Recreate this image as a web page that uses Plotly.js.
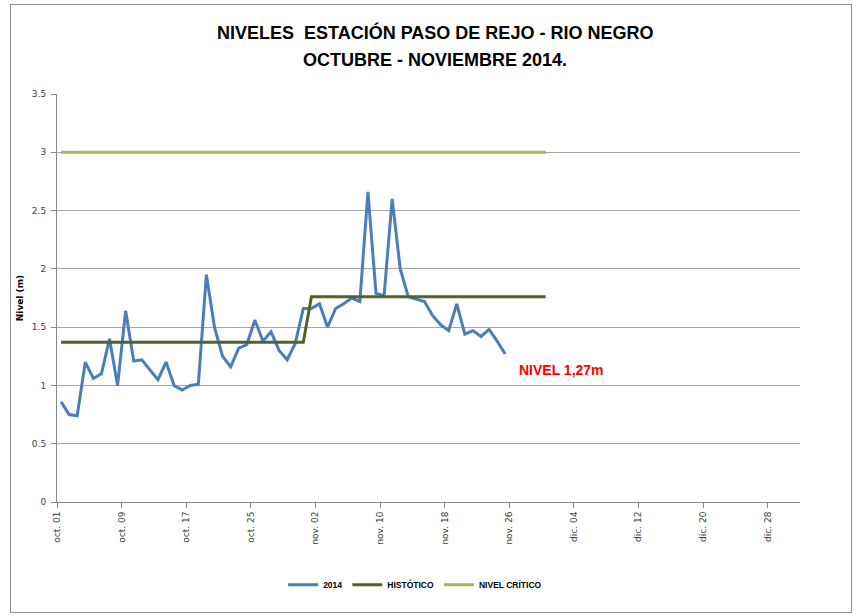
<!DOCTYPE html>
<html><head><meta charset="utf-8">
<script src="https://cdn.plot.ly/plotly-3.0.1.min.js"></script>
<style>
body{margin:0;background:#fff}
#wrap{position:relative;width:859px;height:616px}
#frame{position:absolute;left:10px;top:4px;width:840px;height:607px;border:1px solid #8c8c8c;pointer-events:none}
</style>
</head><body>
<div id="wrap"><div id="chart" style="width:859px;height:616px"></div><div id="frame"></div></div>
<script>
const dates = [
 '2014-10-01','2014-10-02','2014-10-03','2014-10-04','2014-10-05','2014-10-06','2014-10-07','2014-10-08','2014-10-09','2014-10-10',
 '2014-10-11','2014-10-12','2014-10-13','2014-10-14','2014-10-15','2014-10-16','2014-10-17','2014-10-18','2014-10-19','2014-10-20',
 '2014-10-21','2014-10-22','2014-10-23','2014-10-24','2014-10-25','2014-10-26','2014-10-27','2014-10-28','2014-10-29','2014-10-30',
 '2014-10-31','2014-11-01','2014-11-02','2014-11-03','2014-11-04','2014-11-05','2014-11-06','2014-11-07','2014-11-08','2014-11-09',
 '2014-11-10','2014-11-11','2014-11-12','2014-11-13','2014-11-14','2014-11-15','2014-11-16','2014-11-17','2014-11-18','2014-11-19',
 '2014-11-20','2014-11-21','2014-11-22','2014-11-23','2014-11-24','2014-11-25','2014-11-26','2014-11-27','2014-11-28','2014-11-29',
 '2014-11-30'
];
const nivel2014 = [
 0.86,0.75,0.74,1.20,1.06,1.10,1.40,1.00,1.64,1.21,
 1.22,1.13,1.05,1.20,1.00,0.96,1.00,1.01,1.95,1.50,
 1.25,1.16,1.32,1.35,1.56,1.38,1.46,1.30,1.22,1.36,
 1.66,1.66,1.70,1.50,1.66,1.70,1.75,1.72,2.66,1.79,
 1.77,2.60,2.00,1.76,1.74,1.72,1.60,1.52,1.47,1.70,
 1.44,1.47,1.42,1.48,1.38,1.27
];
const historico = [
 1.37,1.37,1.37,1.37,1.37,1.37,1.37,1.37,1.37,1.37,
 1.37,1.37,1.37,1.37,1.37,1.37,1.37,1.37,1.37,1.37,
 1.37,1.37,1.37,1.37,1.37,1.37,1.37,1.37,1.37,1.37,
 1.37,1.76,1.76,1.76,1.76,1.76,1.76,1.76,1.76,1.76,
 1.76,1.76,1.76,1.76,1.76,1.76,1.76,1.76,1.76,1.76,
 1.76,1.76,1.76,1.76,1.76,1.76,1.76,1.76,1.76,1.76,
 1.76
];
const critico = [
 3,3,3,3,3,3,3,3,3,3,3,3,3,3,3,3,3,3,3,3,
 3,3,3,3,3,3,3,3,3,3,3,3,3,3,3,3,3,3,3,3,
 3,3,3,3,3,3,3,3,3,3,3,3,3,3,3,3,3,3,3,3,3
];
const tickDates = ['2014-10-01','2014-10-09','2014-10-17','2014-10-25','2014-11-02','2014-11-10','2014-11-18','2014-11-26','2014-12-04','2014-12-12','2014-12-20','2014-12-28'];
const tickLabels = ['oct. 01','oct. 09','oct. 17','oct. 25','nov. 02','nov. 10','nov. 18','nov. 26','dic. 04','dic. 12','dic. 20','dic. 28'];
const seriesNames = ['2014','HISTÓTICO','NIVEL CRÍTICO'];

const xs = dates.map(d => d + ' 12:00');

const traces = [
 {x: xs.slice(0, nivel2014.length), y: nivel2014, name: seriesNames[0], type:'scatter', mode:'lines', line:{color:'#4a7ebb', width:3}},
 {x: xs, y: historico, name: seriesNames[1], type:'scatter', mode:'lines', line:{color:'#4f6228', width:3}},
 {x: xs, y: critico, name: seriesNames[2], type:'scatter', mode:'lines', line:{color:'#9bbb59', width:3}}
];

const tickFont = {family:'DejaVu Sans', size:9, color:'#404040'};
const titleFont = {family:'Liberation Sans, Arial, sans-serif', size:18, weight:'bold', color:'#000'};
const layout = {
 width:859, height:616,
 margin:{l:57, r:59, t:94, b:114, pad:0},
 paper_bgcolor:'#fff', plot_bgcolor:'#fff',
 xaxis:{type:'date', range:['2014-10-01','2015-01-01'], tickmode:'array', tickvals:tickDates, ticktext:tickLabels, tickangle:-90,
   ticks:'outside', ticklen:5, tickcolor:'#878787', showline:true, linecolor:'#878787', linewidth:1, showgrid:false, zeroline:false, tickfont:tickFont},
 yaxis:{range:[0,3.5], tick0:0, dtick:0.5, ticks:'outside', ticklen:5, tickcolor:'#878787', showline:true, linecolor:'#878787', linewidth:1,
   gridcolor:'#a6a6a6', gridwidth:1, zeroline:false, tickfont:tickFont, ticklabelstandoff:3,
   title:{text:'Nivel (m)', font:{family:'DejaVu Sans', size:9, weight:'bold', color:'#000'}, standoff:6}},
 showlegend:true,
 legend:{orientation:'h', x:0.482, xanchor:'center', y:-0.203, yanchor:'middle', font:{family:'Liberation Sans, Arial, sans-serif', size:8.5, weight:'bold', color:'#000'}, itemwidth:30, traceorder:'normal'},
 annotations:[
  {x:0.506, y:32, xref:'paper', yref:'paper', text:'NIVELES&nbsp; ESTACIÓN PASO DE REJO - RIO NEGRO', showarrow:false, xanchor:'center', yanchor:'middle', font:titleFont},
  {x:0.506, y:60, xref:'paper', yref:'paper', text:'OCTUBRE - NOVIEMBRE 2014.', showarrow:false, xanchor:'center', yanchor:'middle', font:titleFont},
  {x:'2014-11-27', y:1.13, xref:'x', yref:'y', text:'NIVEL 1,27m', showarrow:false, xanchor:'left', yanchor:'middle',
   font:{family:'Liberation Sans, Arial, sans-serif', size:14, weight:'bold', color:'#ff0000'}}]
};
// convert title pixel rows into paper coordinates of the plot area (top 94px, height 408px)
layout.annotations[0].x = (435 - 57) / 743; layout.annotations[0].y = (502 - 32) / 408;
layout.annotations[1].x = (435 - 57) / 743; layout.annotations[1].y = (502 - 60) / 408;
Plotly.newPlot('chart', traces, layout, {staticPlot:true, displayModeBar:false});
</script>
</body></html>
